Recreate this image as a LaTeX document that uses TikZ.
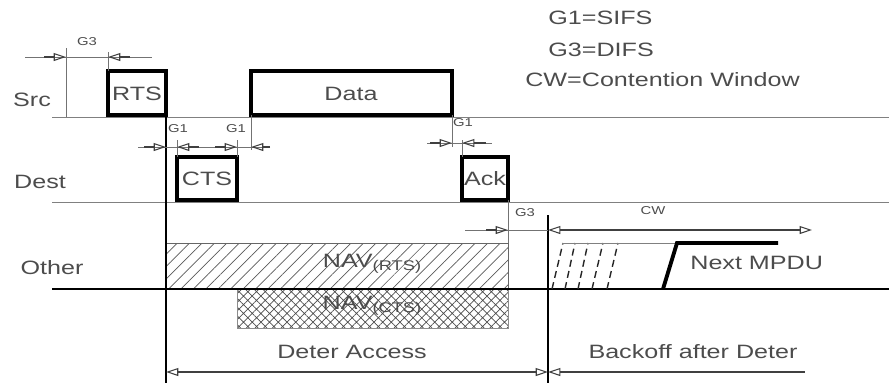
\documentclass[tikz,border=0pt]{standalone}
\usepackage{fontspec}
\setmainfont[FakeStretch=1.3]{Liberation Sans}
\usetikzlibrary{arrows.meta, patterns.meta}
\definecolor{ink}{gray}{0.3}

\begin{document}
\begin{tikzpicture}[x=0.02cm, y=-0.02cm,
    frame/.style={line width=2pt},
    tick/.style={black!55, line width=0.5pt},
    gap/.style={black!75, line width=0.6pt, -{Triangle[open, length=7pt, width=4.5pt]}},
    lbl/.style={text=ink, font=\fontsize{11}{13}\selectfont, inner sep=0pt},
    tiny/.style={text=ink, font=\fontsize{6.5}{7}\selectfont, inner sep=0pt}]
    \useasboundingbox (0,0) rectangle (889,383);
    %the shaded regions
    \fill[pattern={Lines[angle=45, distance=5pt, line width=0.4pt]}, pattern color=black!65] (165,243) rectangle (508,289);
    \fill[pattern={Hatch[angle=45, distance=3.5pt, line width=0.4pt]}, pattern color=black!70] (237,289) rectangle (508,328);
    \draw[black!60] (165,289) -- (165,243) -- (508,243) -- (508,289);
    \draw[black!45] (237,289) -- (237,328) -- (508,328) -- (508,289);
    %the time lines
    \draw[black!50] (52,117) -- (889,117) (52,202) -- (889,202);
    \draw[line width=1pt] (52,289) -- (889,289);
    %the frames
    \draw[frame] (108,71) rectangle (166,115);
    \draw[frame] (251,71) rectangle (452,115);
    \draw[frame] (177,157) rectangle (237,200);
    \draw[frame] (462,157) rectangle (508,200);
    %the deferral markers
    \draw[line width=0.9pt] (166,115) -- (166,383) (548,215) -- (548,383);
    \draw[tick] (66,48) -- (66,117) (108,52) -- (108,71)
        (177,140) -- (177,157) (237,140) -- (237,157) (251,115) -- (251,150)
        (452,115) -- (452,147) (462,140) -- (462,157) (508,200) -- (508,243);
    %the gaps
    \draw[tick] (25,57) -- (152,57) (138,147) -- (270,147) (427,143) -- (492,143) (465,230) -- (548,230);
    \draw[gap] (44,57) -- (66,57);
    \draw[gap] (130,57) -- (108,57);
    \draw[gap] (144,147) -- (166,147);
    \draw[gap] (199,147) -- (177,147);
    \draw[gap] (215,147) -- (237,147);
    \draw[gap] (270,147) -- (251,147);
    \draw[gap] (430,143) -- (452,143);
    \draw[gap] (486,143) -- (462,143);
    \draw[gap] (486,230) -- (508,230);
    \draw[gap, {Triangle[open, length=7pt, width=4.5pt]}-{Triangle[open, length=7pt, width=4.5pt]}] (548,230) -- (812,230);
    \draw[gap, {Triangle[open, length=7pt, width=4.5pt]}-{Triangle[open, length=7pt, width=4.5pt]}] (166,372) -- (548,372);
    \draw[gap, {Triangle[open, length=7pt, width=4.5pt]}-] (548,372) -- (805,372);
    %the backoff
    \foreach \bx/\tx in {552/563, 565/575, 578/588, 592/603, 607/618}
        \draw[black!85, dash pattern=on 4pt off 2.5pt, line width=0.8pt] (\bx,289) -- (\tx,243);
    \draw[black!50] (562,243) -- (676,243);
    \draw[line width=2.2pt] (663,289) -- (677,243) -- (778,243);
    %legends
    \path (32,100) node[lbl] {Src} (40,182) node[lbl] {Dest} (52,268) node[lbl] {Other};
    \path (548,18) node[lbl, anchor=west] {G1=SIFS} (548,50) node[lbl, anchor=west] {G3=DIFS}
        (525,80) node[lbl, anchor=west] {CW=Contention Window};
    %the entries
    \path (137,94) node[lbl] {RTS} (351,94) node[lbl] {Data} (207,179) node[lbl] {CTS} (485,179) node[lbl] {Ack};
    \path (372,264) node[lbl] {NAV{\fontsize{8}{9}\selectfont\raisebox{-0.45ex}{(RTS)}}}
        (372,306) node[lbl] {NAV{\fontsize{8}{9}\selectfont\raisebox{-0.45ex}{(CTS)}}}
        (352,352) node[lbl] {Deter Access} (693,352) node[lbl] {Backoff after Deter}
        (690,263) node[lbl, anchor=west] {Next MPDU};
    \path (87,42) node[tiny] {G3} (178,129) node[tiny] {G1} (236,129) node[tiny] {G1} (463,123) node[tiny] {G1}
        (525,213) node[tiny] {G3} (653,211) node[tiny] {CW};
\end{tikzpicture}
\end{document}
